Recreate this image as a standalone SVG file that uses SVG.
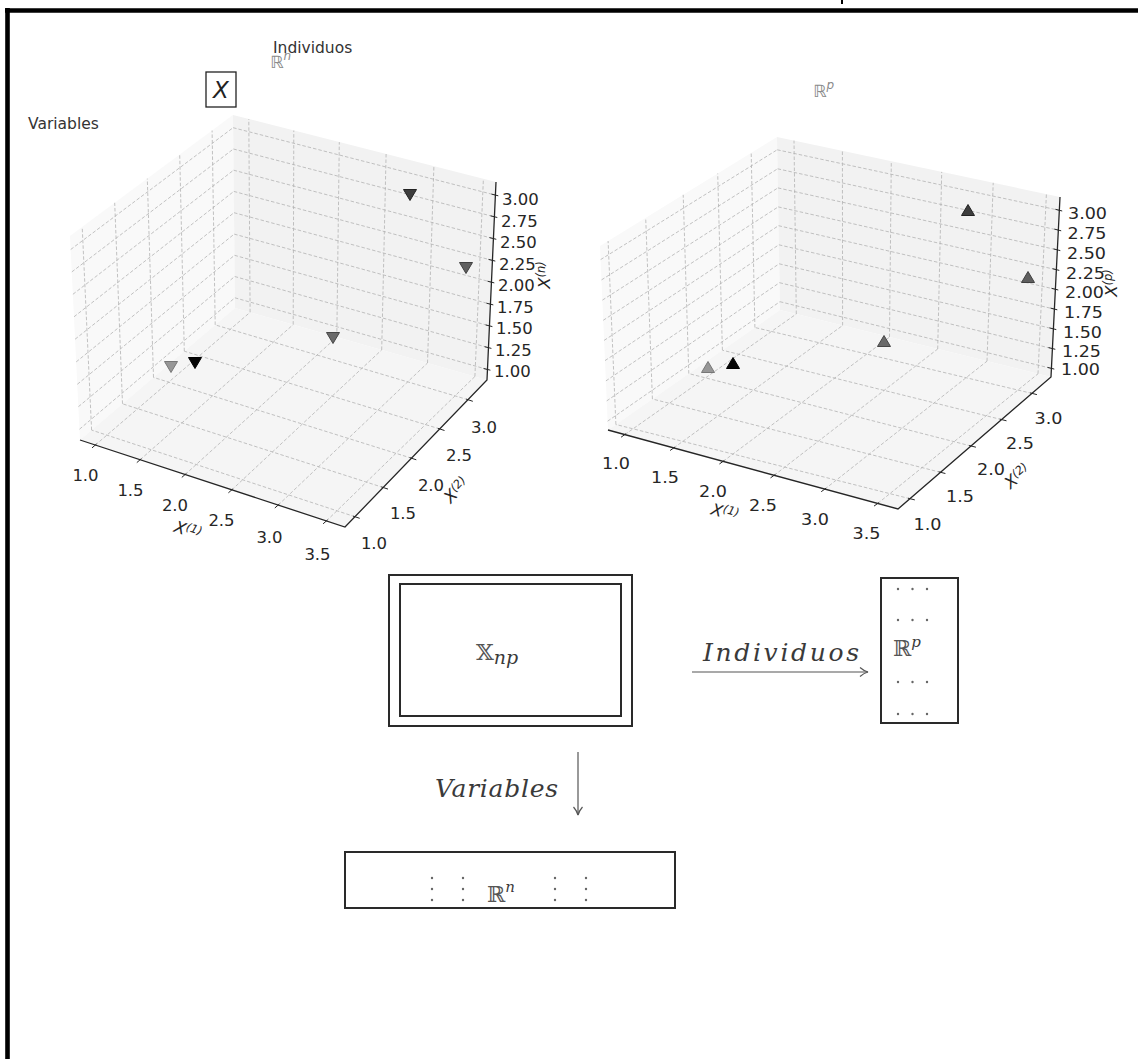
<svg xmlns="http://www.w3.org/2000/svg" width="1138" height="1059" viewBox="0 0 1138 1059">
<style>
 .grid{fill:none;stroke:#b2b2b2;stroke-width:0.8;stroke-dasharray:3.5,2}
 .axis{fill:none;stroke:#262626;stroke-width:1.3}
 .tick{fill:none;stroke:#262626;stroke-width:1}
 .tl{font-family:"DejaVu Sans",sans-serif;font-size:16.5px;fill:#262626}
 .tm{text-anchor:middle}
 .al{font-family:"DejaVu Sans",sans-serif;font-size:16.5px;font-style:italic;fill:#262626;text-anchor:middle}
 .pl{fill:#f9f9f9}
 .pr{fill:#f2f2f2}
 .pf{fill:#f5f5f5}
 .ann{font-family:"DejaVu Sans",sans-serif;font-size:15.5px;fill:#333}
 .bb{font-family:"DejaVu Sans",sans-serif;fill:#8a8a8a}
 .box{fill:none;stroke:#2a2a2a;stroke-width:2}
 .tex{font-family:"DejaVu Serif","Liberation Serif",serif;font-style:italic;fill:#3a3a3a}
 .bbs{font-family:"DejaVu Serif","DejaVu Sans",serif;fill:#555}
 .dot{fill:#666}
 .conn{fill:none;stroke:#555;stroke-width:1.2}
</style>
<defs>
 <path id="tv" d="M-6.5,-5.5 L6.5,-5.5 L0,5.5 Z" stroke-width="1"/>
 <path id="tu" d="M-6.5,5.5 L6.5,5.5 L0,-5.5 Z" stroke-width="1"/>
 <marker id="ah" markerWidth="12" markerHeight="12" refX="10" refY="6" orient="auto" markerUnits="userSpaceOnUse">
  <path d="M2,1.5 Q6,5 10,6 Q6,7 2,10.5" fill="none" stroke="#555" stroke-width="1.2"/>
 </marker>
</defs>
<rect width="1138" height="1059" fill="#fff"/>

<g id="frame">
 <path d="M5,10.5 H1138 M7.5,8 V1059" stroke="#000" stroke-width="4.6" fill="none"/>
 <rect x="841" y="0" width="2" height="4" fill="#000"/>
</g>

<g id="annotations">
 <text class="ann" x="273" y="53">Individuos</text>
 <text class="bb" x="270" y="68" font-size="17">ℝ<tspan font-size="12" font-style="italic" dy="-8">n</tspan></text>
 <rect x="206" y="72" width="30" height="35" fill="#fff" stroke="#222" stroke-width="1.3"/>
 <text x="221" y="98" font-family="DejaVu Sans,sans-serif" font-style="italic" font-size="23" fill="#222" text-anchor="middle">X</text>
 <text class="ann" x="28" y="129">Variables</text>
 <text class="bb" x="813" y="97" font-size="17">ℝ<tspan font-size="12" font-style="italic" dy="-8">p</tspan></text>
</g>

<g id="plot-individuos">
 <path class="pl" d="M80,440 L235,308 L233,115 L70,236 Z"/>
 <path class="pr" d="M235,308 L487,380 L496,182 L233,115 Z"/>
 <path class="pf" d="M80,440 L345,527 L487,380 L235,308 Z"/>
 <path class="grid" d="M250.1,312.3 L248.8,119.0 M293.2,324.6 L293.8,130.5 M336.8,337.1 L339.3,142.1 M381.7,349.9 L386.1,154.0 M427.5,363.0 L433.9,166.2 M474.9,376.5 L483.4,178.8
 M234.9,297.8 L487.5,369.5 M234.7,276.5 L488.5,347.7 M234.5,255.3 L489.5,325.9 M234.2,234.1 L490.4,304.2 M234.0,212.7 L491.4,282.2 M233.8,191.4 L492.4,260.4 M233.6,170.2 L493.4,238.6 M233.4,149.0 L494.4,216.8 M233.1,127.7 L495.4,195.1
 M91.6,430.1 L82.2,226.9 M122.5,403.8 L114.7,202.8 M153.5,377.4 L147.3,178.6 M184.3,351.2 L179.7,154.6 M215.2,324.9 L212.1,130.5
 M79.5,429.2 L234.9,297.8 M78.4,406.7 L234.7,276.5 M77.3,384.3 L234.5,255.3 M76.2,361.9 L234.2,234.1 M75.1,339.2 L234.0,212.7 M74.0,316.8 L233.8,191.4 M72.9,294.3 L233.6,170.2 M71.8,271.9 L233.4,149.0 M70.7,249.5 L233.1,127.7
 M95.4,445.0 L250.1,312.3 M140.2,459.7 L293.2,324.6 M185.2,474.5 L336.8,337.1 M231.8,489.9 L381.7,349.9 M278.2,505.1 L427.5,363.0 M326.5,520.9 L474.9,376.5
 M354.9,516.7 L91.6,430.1 M383.2,487.5 L122.5,403.8 M411.5,458.2 L153.5,377.4 M439.7,428.9 L184.3,351.2 M468.0,399.7 L215.2,324.9"/>
 <path class="axis" d="M80,440 L345,527 L487,380 L496,182"/>
 <path class="tick" d="M92.0,447.9 L96.5,444.0 M136.8,462.6 L141.3,458.7 M181.8,477.4 L186.3,473.5 M228.4,492.8 L232.9,488.9 M274.8,508.0 L279.3,504.1 M323.1,523.8 L327.6,519.9
 M353.0,516.1 L359.7,518.3 M381.3,486.9 L388.0,489.1 M409.6,457.6 L416.3,459.8 M437.8,428.3 L444.5,430.5 M466.1,399.1 L472.8,401.3
 M483.6,368.5 L490.4,370.2 M484.6,346.7 L491.4,348.4 M485.6,324.9 L492.4,326.6 M486.5,303.2 L493.3,304.9 M487.5,281.2 L494.3,282.9 M488.5,259.4 L495.3,261.1 M489.5,237.6 L496.3,239.3 M490.5,215.8 L497.3,217.5 M491.5,194.1 L498.3,195.8"/>
 <g class="tl tm">
  <text x="85.5" y="481">1.0</text><text x="130.5" y="496">1.5</text><text x="175" y="511">2.0</text><text x="221.5" y="526">2.5</text><text x="269.5" y="542.5">3.0</text><text x="317.5" y="559.5">3.5</text>
  <text x="374" y="549">1.0</text><text x="403" y="519">1.5</text><text x="431" y="491">2.0</text><text x="459" y="461">2.5</text><text x="484" y="433">3.0</text>
 </g>
 <g class="tl">
  <text x="502" y="205">3.00</text><text x="501" y="226.5">2.75</text><text x="500" y="248">2.50</text><text x="499" y="269.5">2.25</text><text x="498" y="291">2.00</text><text x="497" y="312.5">1.75</text><text x="496" y="334">1.50</text><text x="495" y="355.5">1.25</text><text x="494" y="377">1.00</text>
 </g>
 <text class="al" transform="translate(188,530) rotate(18)" y="6">X<tspan font-size="11.5" dy="-5">(1)</tspan></text>
 <text class="al" transform="translate(456,490) rotate(-46)" y="6">X<tspan font-size="11.5" dy="-5">(2)</tspan></text>
 <text class="al" transform="translate(544,275) rotate(-90)" y="6">X<tspan font-size="11.5" dy="-5">(n)</tspan></text>
 <use href="#tv" x="410" y="195" fill="#3d3d3d" stroke="#222"/>
 <use href="#tv" x="466" y="268" fill="#5f5f5f" stroke="#404040"/>
 <use href="#tv" x="333" y="338" fill="#6a6a6a" stroke="#474747"/>
 <use href="#tv" x="171" y="367" fill="#979797" stroke="#777"/>
 <use href="#tv" x="195" y="363" fill="#050505" stroke="#000"/>
</g>

<g id="plot-variables">
 <path class="pl" d="M608,430 L780,310 L777,137 L600,246 Z"/>
 <path class="pr" d="M780,310 L1051,377 L1060,197 L777,137 Z"/>
 <path class="pf" d="M608,430 L898,509 L1051,377 L780,310 Z"/>
 <path class="grid" d="M796.3,314.0 L794.0,140.6 M842.6,325.5 L842.4,150.9 M889.5,337.1 L891.3,161.2 M937.7,349.0 L941.7,171.9 M987.0,361.2 L993.2,182.8 M1038.0,373.8 L1046.4,194.1
 M779.9,301.7 L1051.4,368.4 M779.5,282.7 L1052.4,348.6 M779.2,263.8 L1053.4,328.9 M778.9,244.8 L1054.4,309.1 M778.5,225.7 L1055.4,289.3 M778.2,206.9 L1056.4,269.7 M777.9,187.9 L1057.4,249.9 M777.6,168.8 L1058.3,230.1 M777.2,149.8 L1059.3,210.3
 M615.9,424.5 L608.1,241.0 M652.4,399.0 L645.7,217.9 M688.8,373.6 L683.2,194.8 M722.4,350.2 L717.7,173.5 M754.9,327.5 L751.2,152.9
 M607.6,421.2 L779.9,301.7 M606.7,400.9 L779.5,282.7 M605.9,380.9 L779.2,263.8 M605.0,360.6 L778.9,244.8 M604.1,340.4 L778.5,225.7 M603.2,320.3 L778.2,206.9 M602.4,300.1 L777.9,187.9 M601.5,279.9 L777.6,168.8 M600.6,259.6 L777.2,149.8
 M624.8,434.6 L796.3,314.0 M673.8,447.9 L842.6,325.5 M723.1,461.4 L889.5,337.1 M774.2,475.3 L937.7,349.0 M824.9,489.1 L987.0,361.2 M877.7,503.5 L1038.0,373.8
 M909.9,498.7 L615.9,424.5 M940.5,472.3 L652.4,399.0 M971.0,446.0 L688.8,373.6 M1001.6,419.6 L722.4,350.2 M1032.0,393.4 L754.9,327.5"/>
 <path class="axis" d="M608,430 L898,509 L1051,377 L1060,197"/>
 <path class="tick" d="M621.1,437.2 L626.0,433.7 M670.1,450.5 L675.0,447.0 M719.4,464.0 L724.3,460.5 M770.5,477.9 L775.4,474.4 M821.2,491.7 L826.1,488.2 M874.0,506.1 L878.9,502.6
 M908.0,498.2 L914.8,499.9 M938.6,471.8 L945.4,473.5 M969.1,445.5 L975.9,447.2 M999.7,419.1 L1006.5,420.8 M1030.1,392.9 L1036.9,394.6
 M1047.5,367.4 L1054.3,369.1 M1048.5,347.6 L1055.3,349.3 M1049.5,327.9 L1056.3,329.6 M1050.5,308.1 L1057.3,309.8 M1051.5,288.3 L1058.3,290.0 M1052.5,268.7 L1059.3,270.4 M1053.5,248.9 L1060.3,250.6 M1054.4,229.1 L1061.2,230.8 M1055.4,209.3 L1062.2,211.0"/>
 <g class="tl tm">
  <text x="616" y="468.5" textLength="28" lengthAdjust="spacingAndGlyphs">1.0</text><text x="665" y="482.5" textLength="28" lengthAdjust="spacingAndGlyphs">1.5</text><text x="713" y="497" textLength="28" lengthAdjust="spacingAndGlyphs">2.0</text><text x="763" y="511" textLength="28" lengthAdjust="spacingAndGlyphs">2.5</text><text x="815" y="524.5" textLength="28" lengthAdjust="spacingAndGlyphs">3.0</text><text x="866.5" y="538.5" textLength="28" lengthAdjust="spacingAndGlyphs">3.5</text>
  <text x="927.5" y="530" textLength="28" lengthAdjust="spacingAndGlyphs">1.0</text><text x="960" y="502" textLength="28" lengthAdjust="spacingAndGlyphs">1.5</text><text x="991" y="474.5" textLength="28" lengthAdjust="spacingAndGlyphs">2.0</text><text x="1020" y="448.5" textLength="28" lengthAdjust="spacingAndGlyphs">2.5</text><text x="1048.5" y="423.5" textLength="28" lengthAdjust="spacingAndGlyphs">3.0</text>
 </g>
 <g class="tl">
  <text x="1068" y="218.5" textLength="39" lengthAdjust="spacingAndGlyphs">3.00</text><text x="1067.5" y="239" textLength="39" lengthAdjust="spacingAndGlyphs">2.75</text><text x="1067" y="259" textLength="39" lengthAdjust="spacingAndGlyphs">2.50</text><text x="1066" y="279" textLength="39" lengthAdjust="spacingAndGlyphs">2.25</text><text x="1065" y="298" textLength="39" lengthAdjust="spacingAndGlyphs">2.00</text><text x="1064" y="318" textLength="39" lengthAdjust="spacingAndGlyphs">1.75</text><text x="1063" y="338" textLength="39" lengthAdjust="spacingAndGlyphs">1.50</text><text x="1062" y="357" textLength="39" lengthAdjust="spacingAndGlyphs">1.25</text><text x="1061" y="375" textLength="39" lengthAdjust="spacingAndGlyphs">1.00</text>
 </g>
 <text class="al" transform="translate(725,512) rotate(15)" y="6">X<tspan font-size="11.5" dy="-5">(1)</tspan></text>
 <text class="al" transform="translate(1017,476) rotate(-41)" y="6">X<tspan font-size="11.5" dy="-5">(2)</tspan></text>
 <text class="al" transform="translate(1111,283) rotate(-90)" y="6">X<tspan font-size="11.5" dy="-5">(p)</tspan></text>
 <use href="#tu" x="968" y="210" fill="#3d3d3d" stroke="#222"/>
 <use href="#tu" x="1028" y="277" fill="#5f5f5f" stroke="#404040"/>
 <use href="#tu" x="884" y="341" fill="#6a6a6a" stroke="#474747"/>
 <use href="#tu" x="708" y="367" fill="#979797" stroke="#777"/>
 <use href="#tu" x="733" y="363" fill="#050505" stroke="#000"/>
</g>

<g id="node-xnp">
 <rect class="box" x="389" y="575" width="243" height="151"/>
 <rect class="box" x="400" y="584" width="221" height="132"/>
 <text class="bbs" x="476" y="660" font-size="23">𝕏<tspan class="tex" font-size="19" dy="4">np</tspan></text>
</g>

<g id="node-rp">
 <rect class="box" x="881" y="578" width="77" height="145"/>
 <g class="dot">
  <circle cx="898" cy="589" r="1.2"/><circle cx="912.5" cy="589" r="1.2"/><circle cx="927" cy="589" r="1.2"/>
  <circle cx="898" cy="620" r="1.2"/><circle cx="912.5" cy="620" r="1.2"/><circle cx="927" cy="620" r="1.2"/>
  <circle cx="898" cy="682" r="1.2"/><circle cx="912.5" cy="682" r="1.2"/><circle cx="927" cy="682" r="1.2"/>
  <circle cx="898" cy="714" r="1.2"/><circle cx="912.5" cy="714" r="1.2"/><circle cx="927" cy="714" r="1.2"/>
 </g>
 <text class="bbs" x="893" y="656" font-size="22">ℝ<tspan class="tex" font-size="15" dy="-9">p</tspan></text>
</g>

<g id="node-rn">
 <rect class="box" x="345" y="852" width="330" height="56"/>
 <g class="dot">
  <circle cx="432" cy="878" r="1.2"/><circle cx="432" cy="889" r="1.2"/><circle cx="432" cy="900" r="1.2"/>
  <circle cx="463" cy="878" r="1.2"/><circle cx="463" cy="889" r="1.2"/><circle cx="463" cy="900" r="1.2"/>
  <circle cx="555" cy="878" r="1.2"/><circle cx="555" cy="889" r="1.2"/><circle cx="555" cy="900" r="1.2"/>
  <circle cx="586" cy="878" r="1.2"/><circle cx="586" cy="889" r="1.2"/><circle cx="586" cy="900" r="1.2"/>
 </g>
 <text class="bbs" x="487" y="902" font-size="22">ℝ<tspan class="tex" font-size="15" dy="-10">n</tspan></text>
</g>

<g id="connectors">
 <line class="conn" x1="692" y1="672" x2="868" y2="672" marker-end="url(#ah)"/>
 <text class="tex" x="703" y="661" font-size="25" textLength="156">Individuos</text>
 <line class="conn" x1="578" y1="752" x2="578" y2="815" marker-end="url(#ah)"/>
 <text class="tex" x="435" y="797" font-size="25" textLength="123">Variables</text>
</g>
</svg>
